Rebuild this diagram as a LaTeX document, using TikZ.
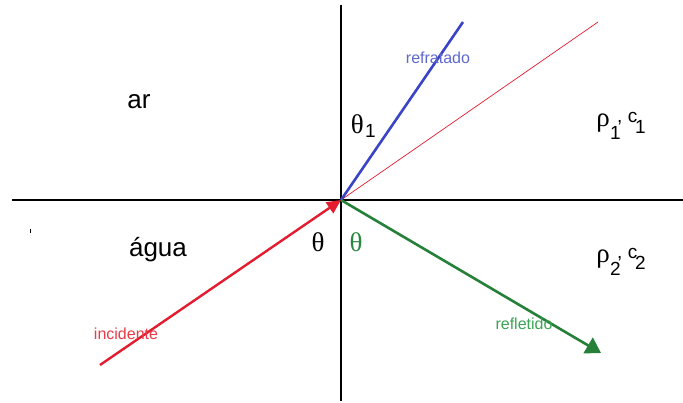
\documentclass[tikz,border=0pt]{standalone}
\usepackage{fontspec}
\setmainfont{Liberation Sans}
\newfontfamily\grk{Liberation Serif}
\usetikzlibrary{arrows.meta}
\definecolor{incred}{RGB}{228,28,48}
\definecolor{refblue}{RGB}{58,68,198}
\definecolor{refgreen}{RGB}{38,128,58}
\definecolor{txtblue}{RGB}{95,105,205}
\definecolor{txtgreen}{RGB}{60,165,85}
\definecolor{txtred}{RGB}{232,60,72}
\tikzset{
  axis/.style={line width=2.6pt, black},
  big/.style={font=\fontsize{26}{30}\selectfont, inner sep=0pt},
  greek/.style={font=\fontsize{27}{30}\selectfont\grk, inner sep=0pt},
  sub/.style={font=\fontsize{19}{21}\selectfont, inner sep=0pt},
  small/.style={font=\fontsize{16}{18}\selectfont, inner sep=0pt},
}
\begin{document}
\begin{tikzpicture}[x=1pt,y=-1pt]
\path[use as bounding box, fill=white] (0,0) rectangle (683,403);
\coordinate (O) at (341,200);
\coordinate (hl) at (12,200);
\coordinate (hr) at (683,200);
\coordinate (vt) at (341,5);
\coordinate (vb) at (341,401);
\coordinate (bl) at (463,22);
\coordinate (tr) at (598,22);
\coordinate (inc) at (100,365);
\coordinate (gr) at (601,353);
\draw[axis] (hl) -- (hr);
\draw[axis] (vt) -- (vb);
\draw[incred, line width=0.7pt] (O) -- (tr);
\draw[refblue, line width=2.6pt] (O) -- (bl);
\draw[incred, line width=2.4pt, -{Triangle[length=14pt,width=13pt]}] (inc) -- (O);
\draw[refgreen, line width=2.6pt, -{Triangle[length=15pt,width=18pt]}] (O) -- (gr);
\draw[black, line width=0.8pt] (30,229) -- (30,233);
\node[big] (ar) at (139,102) {ar};
\node[big] (agua) at (158,250) {água};
% theta_1
\node[greek, anchor=east] (th1) at (364,124) {θ};
\node[sub, anchor=west] (th1s) at (365,131) {1};
\node[greek] (thb) at (318,242) {θ};
\node[greek, refgreen!80!txtgreen] (thg) at (356,242) {θ};
% rho_1, c_1
\node[greek, anchor=east] (r1) at (610,123) {ρ};
\node[sub, anchor=west] (r1s) at (610,133) {1};
\node[sub, anchor=west] (r1c) at (617,119) {, c};
\node[sub, anchor=west] (r1cs) at (635,127) {1};
% rho_2, c_2
\node[greek, anchor=east] (r2) at (610,259) {ρ};
\node[sub, anchor=west] (r2s) at (610,269) {2};
\node[sub, anchor=west] (r2c) at (617,255) {, c};
\node[sub, anchor=west] (r2cs) at (635,263) {2};
\node[small, txtblue] (refr) at (438,58) {refratado};
\node[small, txtred] (incl) at (126,334) {incidente};
\node[small, txtgreen] (refl) at (524,324) {refletido};
\end{tikzpicture}
\end{document}
